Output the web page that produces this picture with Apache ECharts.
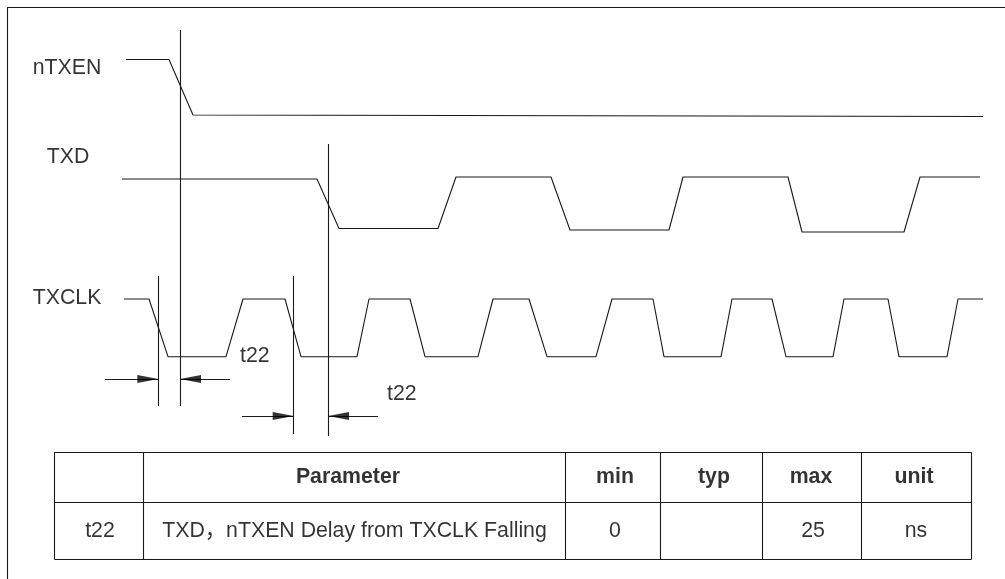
<!DOCTYPE html>
<html>
<head>
<meta charset="utf-8">
<script src="https://cdn.jsdelivr.net/npm/echarts@6/dist/echarts.min.js"></script>
<style>
html,body{margin:0;padding:0;background:#fff;}
#chart{width:1005px;height:579px;}
</style>
</head>
<body>
<div id="chart"></div>
<script>
// ---- DATA (timing diagram, values read in canvas units) ----
const signalNames = ['nTXEN', 'TXD', 'TXCLK'];
const nTXEN = [[126, 59.5], [169, 59.5], [193, 115], [983, 116.5]];
const TXD = [[122, 179], [317, 179], [339, 228.5], [438, 228.5], [456, 177], [551, 177], [570, 230], [669, 230],
  [683, 177], [788, 177], [802, 232], [904, 232], [920, 177], [980, 177]];
const TXCLK = [[124, 299], [149, 299], [168, 356.7], [226, 356.7], [243, 299], [285, 299], [301, 356.7], [357, 356.7],
  [369, 299], [410, 299], [425, 356.7], [478, 356.7], [493, 299], [529, 299], [547, 356.7], [596, 356.7],
  [612, 299], [653, 299], [664, 356.7], [721, 356.7], [732, 299], [772, 299], [786, 356.7], [833, 356.7],
  [844, 299], [888, 299], [899, 356.7], [947, 356.7], [958, 299], [983, 299]];
// reference (delay) markers: [x, yTop, yBottom]
const markerLines = [[180, 30, 406], [328, 144, 436], [158.3, 276, 406], [293.7, 276, 434]];
// dimension arrows: [tipX, tailX, y]
const delayArrows = [[158.3, 105, 379], [180, 230, 379], [293.7, 242, 416], [328, 378, 416]];
const delayLabel = 't22';
// table
const tableHeaders = ['', 'Parameter', 'min', 'typ', 'max', 'unit'];
const tableRow = ['t22', 'TXD，nTXEN Delay from TXCLK Falling', '0', '', '25', 'ns'];

// ---- LAYOUT ----
const W = 1005, H = 579;
const FONT = "'Liberation Sans', Arial, 'Noto Sans CJK SC', sans-serif";
const FS = 21.3;
const frame = { x: 7, y: 7 };
const signalLabelPos = [[32.7, 68], [46.7, 157.5], [32.7, 298]];
const delayLabelPos = [[240, 356], [387, 394]];
const tableCols = [54.3, 143.3, 565.7, 660.7, 762.7, 861.7, 971.7];
const tableRowsY = [452.3, 502.3, 559];
const headerCenters = [98.8, 348, 615, 714, 811, 914];
const rowCenters = [100, 354.5, 615, 714, 813, 916];
const LINE = '#1a1a1a';

const segs = [];
// frame (top & left)
segs.push({ coords: [[frame.x, frame.y], [W, frame.y]] });
segs.push({ coords: [[frame.x, frame.y], [frame.x, H]] });
// markers
markerLines.forEach(m => segs.push({ coords: [[m[0], m[1]], [m[0], m[2]]] }));
// arrow shafts
delayArrows.forEach(a => segs.push({ coords: [[a[1], a[2]], [a[0], a[2]]] }));
// table
tableRowsY.forEach(y => segs.push({ coords: [[tableCols[0], y], [tableCols[tableCols.length - 1], y]] }));
tableCols.forEach(x => segs.push({ coords: [[x, tableRowsY[0]], [x, tableRowsY[2]]] }));

const HEAD = 21;
const arrowPts = delayArrows.map(a => {
  const dir = a[0] > a[1] ? 1 : -1; // 1 -> pointing right
  return {
    value: [a[0] - dir * HEAD / 2, a[2]],
    symbol: dir > 0 ? 'path://M0,0L10,5L0,10Z' : 'path://M10,0L0,5L10,10Z'
  };
});

const texts = [];
signalNames.forEach((n, i) => texts.push({ name: n, value: signalLabelPos[i], align: 'left', bold: false }));
delayLabelPos.forEach(p => texts.push({ name: delayLabel, value: p, align: 'left', bold: false }));
const headY = (tableRowsY[0] + tableRowsY[1]) / 2;
const rowY = (tableRowsY[1] + tableRowsY[2]) / 2;
tableHeaders.forEach((t, i) => { if (t) texts.push({ name: t, value: [headerCenters[i], headY], align: 'center', bold: true }); });
tableRow.forEach((t, i) => { if (t) texts.push({ name: t, value: [rowCenters[i], rowY], align: 'center', bold: false }); });

const waveStyle = { color: LINE, width: 1.1 };
const chart = echarts.init(document.getElementById('chart'), null, { renderer: 'canvas' });
chart.setOption({
  animation: false,
  backgroundColor: '#fff',
  grid: { left: 0, right: 0, top: 0, bottom: 0 },
  xAxis: { type: 'value', min: 0, max: W, show: false },
  yAxis: { type: 'value', min: 0, max: H, inverse: true, show: false },
  series: [
    ...[nTXEN, TXD, TXCLK].map((d, i) => ({
      type: 'line', name: signalNames[i], data: d, symbol: 'none', lineStyle: waveStyle, silent: true
    })),
    {
      type: 'lines', coordinateSystem: 'cartesian2d', data: segs,
      lineStyle: { color: LINE, width: 1.1, opacity: 1 }, silent: true
    },
    {
      type: 'scatter', data: arrowPts, symbolSize: [HEAD, 8], itemStyle: { color: '#000' }, silent: true
    },
    {
      type: 'scatter', symbolSize: 0, silent: true,
      data: texts.map(t => ({
        name: t.name, value: t.value,
        label: {
          show: true, position: 'inside', formatter: '{b}', align: t.align, verticalAlign: 'middle',
          fontFamily: FONT, fontSize: FS, fontWeight: t.bold ? 'bold' : 'normal', color: '#000'
        }
      }))
    }
  ]
});
</script>
</body>
</html>
